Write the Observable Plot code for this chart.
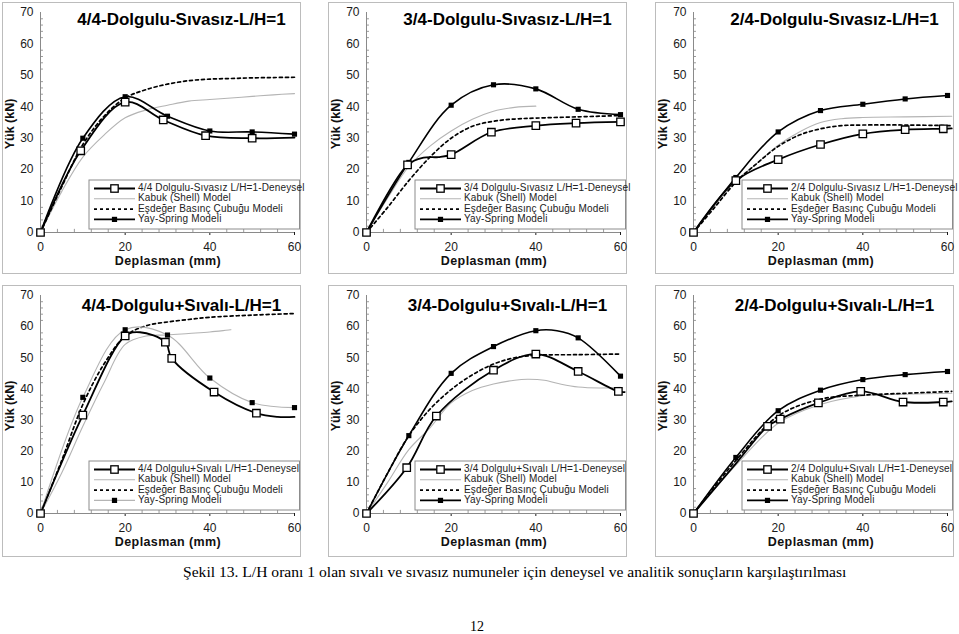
<!DOCTYPE html>
<html><head><meta charset="utf-8">
<script src="https://cdn.jsdelivr.net/npm/d3@7"></script>
<script src="https://cdn.jsdelivr.net/npm/@observablehq/plot@0.6"></script>
<style>
body{margin:0;background:#fff;}
#page{position:relative;width:959px;height:634px;overflow:hidden;font-family:"Liberation Sans",Arial,sans-serif;}
.panel{position:absolute;border:1px solid #bcbcbc;background:#fff;}
.panel svg{display:block;}
#caption{position:absolute;left:183px;top:563px;font-family:"Liberation Serif","Times New Roman",serif;font-size:15.6px;white-space:nowrap;color:#000;}
#pageno{position:absolute;left:470px;top:619px;font-family:"Liberation Serif","Times New Roman",serif;font-size:14px;color:#000;}
</style></head>
<body><div id="page"></div>
<script>
// ---- tick labels ----
const xTicks = [0, 20, 40, 60];
const yTicks = [0, 10, 20, 30, 40, 50, 60, 70];
const xMinor = [4, 8, 12, 16, 24, 28, 32, 36, 44, 48, 52, 56];
const yMinor = [2, 4, 6, 8, 12, 14, 16, 18, 22, 24, 26, 28, 32, 34, 36, 38, 42, 44, 46, 48, 52, 54, 56, 58, 62, 64, 66, 68];

// ---- titles & legend labels ----
const titles = ["4/4-Dolgulu-Sıvasız-L/H=1", "3/4-Dolgulu-Sıvasız-L/H=1", "2/4-Dolgulu-Sıvasız-L/H=1",
                "4/4-Dolgulu+Sıvalı-L/H=1", "3/4-Dolgulu+Sıvalı-L/H=1", "2/4-Dolgulu+Sıvalı-L/H=1"];
const expLabels = ["4/4 Dolgulu-Sıvasız L/H=1-Deneysel", "3/4 Dolgulu-Sıvasız L/H=1-Deneysel", "2/4 Dolgulu-Sıvasız L/H=1-Deneysel",
                   "4/4 Dolgulu+Sıvalı L/H=1-Deneysel", "3/4 Dolgulu+Sıvalı L/H=1-Deneysel", "2/4 Dolgulu+Sıvalı L/H=1-Deneysel"];
const shellLabel = "Kabuk (Shell) Model";
const eqLabel = "Eşdeğer Basınç Çubuğu Modeli";
const springLabel = "Yay-Spring Modeli";
const xLabel = "Deplasman (mm)";
const yLabel = "Yük (kN)";
const captionText = "Şekil 13. L/H oranı 1 olan sıvalı ve sıvasız numuneler için deneysel ve analitik sonuçların karşılaştırılması";
const pageNumber = "12";

// ---- data: [deplasman, yük, (0 = no marker)] ----
const p1Exp    = [[0,0],[9.5,26],[20,41.5],[29,35.8],[39,30.8],[50,30],[60,30.2,0]];
const p1Spring = [[0,0],[10,30],[20,43.2],[30,37],[40,32.3],[50,32],[60,31.3]];
const p1Shell  = [[0,0],[5,13],[10,24],[15,31],[20,36.5],[25,39],[30,40.5],[35,41.8],[40,42.3],[45,42.8],[50,43.3],[55,43.8],[60,44.2]];
const p1Eq     = [[0,0],[5,14.5],[10,28],[15,37],[20,42.8],[25,45.5],[30,47.2],[35,48.3],[40,48.8],[45,49],[50,49.2],[55,49.3],[60,49.4]];

const p2Exp    = [[0,0],[9.7,21.5],[13.5,23.8,0],[17,24,0],[20,24.8],[29.5,31.9],[40,34],[49.5,34.8],[60,35.2]];
const p2Spring = [[0,0],[10,22.3],[20,40.5],[30,47],[40,45.7],[50,39.2],[60,37.5]];
const p2Shell  = [[0,0],[5,11],[10,21],[15,27.5],[20,32.3],[25,36],[30,38.6],[35,39.8],[40,40.2]];
const p2Eq     = [[0,0],[5,8],[10,16.5],[15,24],[20,30],[25,33.8],[30,35.4],[35,36.1],[40,36.4],[50,36.8],[60,37.2]];

const p3Exp    = [[0,0],[10,16.5],[20,23.2],[30,28],[40,31.4],[50,32.7],[59,33],[61,33.1,0]];
const p3Spring = [[0,0],[10,17.5],[20,32],[30,38.8],[40,40.8],[50,42.5],[60,43.6]];
const p3Shell  = [[0,0],[5,8.5],[10,16.5],[15,22],[20,27.8],[25,32],[30,35],[35,36.2],[40,36.6],[50,36.8],[61,37]];
const p3Eq     = [[0,0],[5,8],[10,16],[15,22],[20,27.4],[25,31],[30,33],[35,34],[40,34.2],[50,34.2],[61,34]];

const p4Exp    = [[0,0],[10,31.6],[20,57],[23.5,58.2,0],[29.5,55],[31,49.8],[41,39],[51,32.2],[56,31,0],[60,31,0]];
const p4Spring = [[0,0],[10,37.3],[20,59],[30,57.3],[40,43.5],[50,35.6],[60,34]];
const p4Shell  = [[0,0],[5,13],[10,28],[15,42],[20,54.3],[25,57],[30,57.3],[35,57.8],[40,58.3],[45,59]];
const p4Eq     = [[0,0],[5,17],[10,35],[15,48],[20,57],[25,60.3],[30,61.5],[35,62.3],[40,63],[50,63.7],[60,64.2]];

const p5Exp    = [[0,0],[9.5,14.7],[16.5,31.3],[30,46],[40,51.2],[50,45.6],[59.5,39.2],[61,39,0]];
const p5Spring = [[0,0],[10,25],[20,45],[30,53.6],[40,58.7],[45,58.7,0],[50,56.4],[60,44.1]];
const p5Shell  = [[0,0],[5,10],[10,20.5],[15,27.5],[20,35.5],[25,39.5],[30,41.6],[35,42.8],[38,43.1],[42,42.8],[46,41.5],[50,40.6],[55,40.3],[60,40.5]];
const p5Eq     = [[0,0],[5,13],[10,25],[15,33.5],[20,39.8],[25,44.5],[30,48],[35,50],[40,50.8],[50,51],[60,51.2]];

const p6Exp    = [[0,0],[10,16,0],[17.5,28],[20.5,30.3],[29.5,35.5],[39.5,39.2],[49.5,35.8],[59,35.8],[61,36,0]];
const p6Spring = [[0,0],[10,18],[20,33],[30,39.6],[40,43],[50,44.6],[60,45.6]];
const p6Shell  = [[0,0],[10,15.5],[20,29],[30,35],[40,37.8],[50,38.3],[61,38.6]];
const p6Eq     = [[0,0],[10,17],[20,31.3],[30,36.7],[40,38],[50,38.6],[61,39.2]];

const expSeries    = [p1Exp, p2Exp, p3Exp, p4Exp, p5Exp, p6Exp];
const springSeries = [p1Spring, p2Spring, p3Spring, p4Spring, p5Spring, p6Spring];
const shellSeries  = [p1Shell, p2Shell, p3Shell, p4Shell, p5Shell, p6Shell];
const eqSeries     = [p1Eq, p2Eq, p3Eq, p4Eq, p5Eq, p6Eq];

// ---- layout ----
const FONT = '"Liberation Sans", Arial, sans-serif';
const colLeft = [2, 328, 655];
const rowTop = [2, 285];
const W = 297, H = 270;

const page = document.getElementById("page");
const toObj = a => a.map(p => ({x: p[0], y: p[1], m: p.length < 3 || p[2] !== 0}));

for (let i = 0; i < 6; i++) {
  const row = Math.floor(i / 3), col = i % 3;
  const mt = 9, mb = row === 0 ? 41 : 43, ml = 37, mr = 6;
  const exp = toObj(expSeries[i]), spr = toObj(springSeries[i]);
  const shell = toObj(shellSeries[i]), eq = toObj(eqSeries[i]);
  const springGray = i === 3;
  const titleY = row === 0 ? 16 : 19;

  const chart = Plot.plot({
    width: W, height: H,
    marginTop: mt, marginBottom: mb, marginLeft: ml, marginRight: mr,
    style: {fontFamily: FONT, fontSize: "12px", color: "#1a1a1a", background: "white", overflow: "visible"},
    x: {domain: [0, 60], ticks: xTicks, tickSize: 3, tickPadding: 7, label: null},
    y: {domain: [0, 70], ticks: yTicks, tickSize: 0, tickPadding: 7, label: null},
    marks: [
      Plot.ruleX(xMinor, {y1: 0, y2: 1, stroke: "#9a9a9a"}),
      Plot.ruleY(yMinor, {x1: 0, x2: 0.7, stroke: "#9a9a9a"}),
      Plot.ruleY([0], {stroke: "#8a8a8a"}),
      Plot.ruleX([0], {stroke: "#8a8a8a"}),
      Plot.line(shell, {x: "x", y: "y", stroke: "#b4b4b4", strokeWidth: 1.1, curve: "catmull-rom"}),
      Plot.line(eq, {x: "x", y: "y", stroke: "#000", strokeWidth: 1.7, strokeDasharray: "3,3", curve: "catmull-rom"}),
      Plot.line(spr, {x: "x", y: "y", stroke: springGray ? "#b4b4b4" : "#000", strokeWidth: springGray ? 1.1 : 1.6, curve: "catmull-rom"}),
      Plot.line(exp, {x: "x", y: "y", stroke: "#000", strokeWidth: 1.8, curve: "catmull-rom"}),
      Plot.dot(spr.filter(d => d.m), {x: "x", y: "y", symbol: "square", r: 2.9, fill: "#000", stroke: null}),
      Plot.dot(exp.filter(d => d.m), {x: "x", y: "y", symbol: "square", r: 4.2, fill: "#fff", stroke: "#000", strokeWidth: 1.3}),
      Plot.text([titles[i]], {frameAnchor: "top-left", dx: 178 - ml, dy: titleY - mt, textAnchor: "middle", lineAnchor: "middle",
        fontSize: 17, fontWeight: "bold", fill: "#000"})
    ]
  });

  const svg = d3.select(chart);
  // axis titles
  const y0 = H - mb;
  svg.append("text").attr("x", (ml + W - mr) / 2 + 1).attr("y", y0 + 30).attr("text-anchor", "middle")
    .attr("dominant-baseline", "middle").attr("font-family", FONT).attr("font-size", 12.5).attr("font-weight", "bold")
    .attr("letter-spacing", 0.4).attr("fill", "#111").text(xLabel);
  svg.append("text").attr("transform", `translate(8,${(mt + y0) / 2 + 2}) rotate(-90)`).attr("text-anchor", "middle")
    .attr("dominant-baseline", "middle").attr("font-family", FONT).attr("font-size", 12.5).attr("font-weight", "bold")
    .attr("fill", "#111").text(yLabel);

  // legend
  const lx = 86, tx = 134, ly = row === 0 ? 177 : 175, lh = 49;
  const lg = svg.append("g");
  lg.append("rect").attr("x", lx).attr("y", ly).attr("width", W - lx - 0.5).attr("height", lh)
    .attr("fill", "#fff").attr("stroke", "#8c8c8c").attr("stroke-width", 1);
  const rows = [
    {label: expLabels[i], stroke: "#000", sw: 1.8, dash: null, marker: "open"},
    {label: shellLabel, stroke: "#b4b4b4", sw: 1.1, dash: null, marker: null},
    {label: eqLabel, stroke: "#000", sw: 1.7, dash: "3,3", marker: null},
    {label: springLabel, stroke: springGray ? "#b4b4b4" : "#000", sw: springGray ? 1.1 : 1.6, dash: null, marker: "filled"}
  ];
  rows.forEach((r, k) => {
    const yy = ly + 8.5 + k * 10.3;
    const l = lg.append("line").attr("x1", lx + 5).attr("x2", tx - 2).attr("y1", yy).attr("y2", yy)
      .attr("stroke", r.stroke).attr("stroke-width", r.sw);
    if (r.dash) l.attr("stroke-dasharray", r.dash);
    const cx = (lx + 5 + tx - 2) / 2;
    if (r.marker === "open") lg.append("rect").attr("x", cx - 3.7).attr("y", yy - 3.7).attr("width", 7.4).attr("height", 7.4)
      .attr("fill", "#fff").attr("stroke", "#000").attr("stroke-width", 1.3);
    if (r.marker === "filled") lg.append("rect").attr("x", cx - 2.6).attr("y", yy - 2.6).attr("width", 5.2).attr("height", 5.2)
      .attr("fill", "#000");
    lg.append("text").attr("x", tx + 1).attr("y", yy).attr("text-anchor", "start").attr("dominant-baseline", "middle")
      .attr("font-family", FONT).attr("font-size", 10).attr("letter-spacing", 0.15).attr("fill", "#222").text(r.label);
  });

  const div = document.createElement("div");
  div.className = "panel";
  div.style.left = colLeft[col] + "px";
  div.style.top = rowTop[row] + "px";
  div.appendChild(chart);
  page.appendChild(div);
}

const cap = document.createElement("div"); cap.id = "caption"; cap.textContent = captionText; page.appendChild(cap);
const pn = document.createElement("div"); pn.id = "pageno"; pn.textContent = pageNumber; page.appendChild(pn);
</script>
</body></html>
